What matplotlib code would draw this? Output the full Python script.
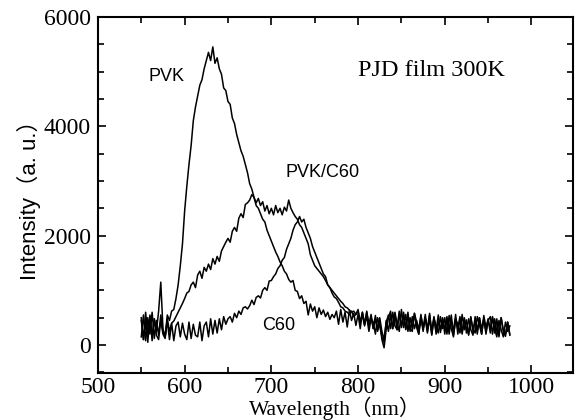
import numpy as np
import matplotlib
matplotlib.use("Agg")
import matplotlib.pyplot as plt
from matplotlib.ticker import MultipleLocator

wavelength = np.arange(550, 975.1, 2.5)

pvk = [
    450, 100, 600, 200, 520, 80, 480, 250, 620, 1150,
    300, 150, 550, 450, 620, 650, 850, 1100, 1450, 1850,
    2450, 2900, 3300, 3650, 4100, 4350, 4550, 4750, 4850, 5050,
    5200, 5350, 5200, 5450, 5150, 5250, 5050, 4950, 4700, 4650,
    4450, 4400, 4150, 4050, 3850, 3700, 3550, 3450, 3300, 3150,
    2950, 2850, 2700, 2550, 2500, 2400, 2300, 2250, 2100, 2000,
    1900, 1800, 1700, 1620, 1520, 1450, 1350, 1300, 1200, 1150,
    1180, 1000, 980, 850, 900, 760, 800, 550, 750, 620,
    700, 500, 680, 560, 640, 520, 600, 470, 560, 500,
    620, 380, 650, 420, 600, 330, 640, 450, 580, 360,
    560, 300, 600, 380, 520, 250, 480, 420, 200, 500,
    350, 150, 50, 450, 250, 560, 300, 600, 400, 250,
    650, 320, 560, 250, 500, 300, 580, 420, 200, 520,
    300, 560, 250, 480, 180, 500, 350, 220, 520, 300,
    500, 200, 540, 300, 150, 480, 380, 220, 560, 280,
    460, 180, 500, 300, 220, 520, 360, 200, 540, 320,
    480, 220, 520, 300, 150, 450, 280, 150, 420, 250,
    350,
]

pvk_c60 = [
    150, 550, 80, 500, 200, 600, 120, 450, 180, 550,
    250, 150, 480, 250, 400, 440, 520, 600, 680, 760,
    850, 950, 980, 1100, 1150, 1050, 1280, 1350, 1220, 1420,
    1350, 1480, 1380, 1580, 1480, 1620, 1530, 1720, 1800, 1880,
    1950, 1880, 2080, 2150, 2080, 2320, 2400, 2330, 2570, 2600,
    2650, 2750, 2700, 2600, 2680, 2550, 2620, 2450, 2550, 2400,
    2500, 2380, 2550, 2420, 2500, 2380, 2520, 2450, 2650, 2500,
    2420, 2350, 2300, 2200, 2150, 2050, 1950, 1850, 1650, 1550,
    1450, 1400, 1350, 1300, 1250, 1180, 1100, 1050, 1000, 950,
    900, 850, 800, 760, 700, 680, 640, 600, 620, 560,
    650, 420, 600, 380, 620, 350, 560, 300, 540, 280,
    500, 250, 100, 420, 550, 300, 600, 350, 280, 580,
    320, 600, 280, 550, 300, 250, 580, 320, 200, 520,
    250, 500, 300, 580, 200, 480, 260, 550, 230, 470,
    280, 520, 200, 460, 250, 560, 200, 480, 240, 500,
    220, 480, 280, 180, 520, 260, 500, 200, 480, 250,
    450, 520, 200, 480, 250, 180, 500, 240, 160, 420,
    200,
]

c60 = [
    500, 100, 420, 50, 550, 150, 480, 180, 100, 450,
    200, 120, 450, 100, 400, 80, 350, 420, 150, 400,
    200, 100, 420, 120, 380, 180, 150, 420, 80, 350,
    420, 150, 480, 200, 450, 220, 480, 280, 520, 380,
    480, 520, 420, 580, 500, 620, 560, 680, 700, 660,
    720, 820, 740, 870, 900, 860, 1000, 1050, 1000, 1170,
    1180, 1250, 1300, 1400, 1450, 1550, 1600, 1750, 1850, 1950,
    2100, 2200, 2250, 2350, 2250, 2300, 2150, 2050, 1950, 1800,
    1700, 1600, 1500, 1400, 1300, 1250, 1100, 1050, 950, 880,
    850, 780, 700, 680, 620, 600, 560, 620, 520, 560,
    620, 400, 550, 350, 600, 380, 520, 300, 480, 250,
    420, 100, -50, 300, 500, 620, 300, 550, 280, 620,
    350, 550, 300, 600, 250, 520, 300, 450, 280, 560,
    300, 480, 220, 550, 250, 520, 200, 420, 300, 500,
    200, 480, 280, 550, 180, 460, 300, 520, 200, 480,
    300, 200, 520, 250, 450, 200, 500, 300, 480, 200,
    450, 300, 500, 220, 480, 150, 500, 280, 200, 420,
    180,
]

x_ticks = [500, 600, 700, 800, 900, 1000]
y_ticks = [0, 2000, 4000, 6000]

fig = plt.figure(figsize=(5.76, 4.2), dpi=100)
ax = fig.add_axes([0.170, 0.112, 0.825, 0.848])

for series in (pvk, pvk_c60, c60):
    ax.plot(wavelength, series, color="black", lw=1.1)

ax.set_xlim(500, 1048)
ax.set_ylim(-510, 6000)
ax.set_xticks(x_ticks)
ax.set_yticks(y_ticks)
ax.xaxis.set_minor_locator(MultipleLocator(50))
ax.yaxis.set_minor_locator(MultipleLocator(500))
ax.tick_params(which="both", direction="in", top=True, right=True, width=1.2)
ax.tick_params(which="major", length=6, labelsize=17)
ax.tick_params(which="minor", length=4)
ax.tick_params(axis="y", which="major", pad=5)
ax.tick_params(axis="x", which="major", pad=3)
for lab in ax.get_xticklabels() + ax.get_yticklabels():
    lab.set_fontfamily("Liberation Serif")
for sp in ax.spines.values():
    sp.set_linewidth(1.5)

ax.set_xlabel("Wavelength（nm）", family=["Liberation Serif", "Noto Sans CJK SC"],
              fontsize=15.5, labelpad=-1)
ax.set_ylabel("Intensity（a. u.）", family=["Liberation Sans", "Noto Sans CJK SC"],
              fontsize=16, labelpad=2)

ax.text(579.6, 4904, "PVK", family="Liberation Sans", fontsize=13, ha="center", va="center")
ax.text(884.8, 5014, "PJD film 300K", family="Liberation Serif", fontsize=17.5,
        ha="center", va="center")
ax.text(759, 3150, "PVK/C60", family="Liberation Sans", fontsize=13, ha="center", va="center")
ax.text(708, 356, "C60", family="Liberation Sans", fontsize=13, ha="center", va="center")

fig.savefig("out.png", dpi=100)
